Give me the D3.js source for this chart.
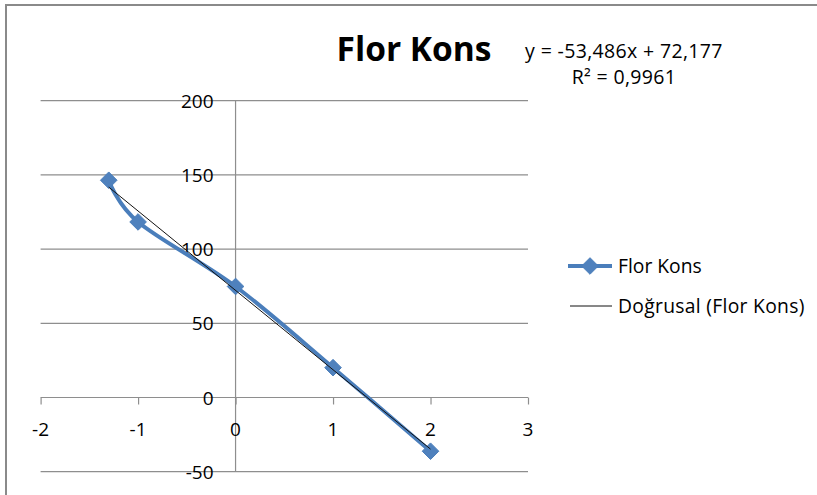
<!DOCTYPE html>
<html>
<head>
<meta charset="utf-8">
<script src="https://cdn.jsdelivr.net/npm/d3@7"></script>
<style>
  html, body { margin: 0; padding: 0; background: #fff; }
  svg { display: block; }
  text { font-family: "Open Sans", "Noto Sans", sans-serif; fill: #000; }
</style>
</head>
<body>
<svg id="chart" width="817" height="495"></svg>
<script>
// Fluoride concentration series (log10 of concentration vs. reading)
const logConc   = [-1.301, -1, 0, 1, 2];
const florKons  = [146.4, 118.3, 74.8, 20.1, -36.2];
const seriesName = "Flor Kons";
const trendName  = "Doğrusal (Flor Kons)";

// Linear trendline as reported on the chart
const trendSlope     = -53.486;
const trendIntercept = 72.177;
const rSquared       = 0.9961;

const xTicks = [-2, -1, 0, 1, 2, 3];
const yTicks = [-50, 0, 50, 100, 150, 200];

const svg = d3.select("#chart");
const blue = "#4A7EBB";
const gridColor = "#8e8e8e";

const x = d3.scaleLinear().domain([-2, 3]).range([40.6, 528]);
const y = d3.scaleLinear().domain([-50, 200]).range([471.7, 100.7]);

// chart frame (top and left edges)
svg.append("line").attr("x1", 5).attr("x2", 817).attr("y1", 5).attr("y2", 5)
  .attr("stroke", "#8a8a8a").attr("stroke-width", 2);
svg.append("line").attr("x1", 6).attr("x2", 6).attr("y1", 4).attr("y2", 495)
  .attr("stroke", "#8a8a8a").attr("stroke-width", 2);

// horizontal gridlines
svg.append("g").selectAll("line").data(yTicks).join("line")
  .attr("x1", x(-2)).attr("x2", x(3))
  .attr("y1", d => y(d)).attr("y2", d => y(d))
  .attr("stroke", gridColor).attr("stroke-width", 1.2);

// vertical axis at x = 0
svg.append("line").attr("x1", x(0)).attr("x2", x(0))
  .attr("y1", y(200)).attr("y2", y(-50))
  .attr("stroke", gridColor).attr("stroke-width", 1.2);

// horizontal axis at y = 0 with tick marks
const xAxis = d3.axisBottom(x).tickValues(xTicks).tickSize(7).tickFormat("");
const xg = svg.append("g").attr("transform", `translate(0,${y(0)})`).call(xAxis);
xg.select(".domain").remove();
xg.selectAll(".tick line").attr("stroke", gridColor).attr("stroke-width", 1.2);

// x tick labels
svg.append("g").selectAll("text").data(xTicks).join("text")
  .attr("x", d => x(d)).attr("y", y(0) + 38)
  .attr("text-anchor", "middle").attr("font-size", 19)
  .text(d => d);

// y tick labels
svg.append("g").selectAll("text").data(yTicks).join("text")
  .attr("x", x(0) - 22).attr("y", d => y(d) + 7)
  .attr("text-anchor", "end").attr("font-size", 19)
  .text(d => d);

const pts = logConc.map((v, i) => [x(v), y(florKons[i])]);

// smoothed series line
svg.append("path")
  .attr("d", d3.line().curve(d3.curveCardinal.tension(0))(pts))
  .attr("fill", "none").attr("stroke", blue).attr("stroke-width", 4)
  .attr("stroke-linejoin", "round").attr("stroke-linecap", "round");

// diamond markers
const diamond = (cx, cy, r) => `M${cx},${cy - r}L${cx + r},${cy}L${cx},${cy + r}L${cx - r},${cy}Z`;
svg.append("g").selectAll("path").data(pts).join("path")
  .attr("d", d => diamond(d[0], d[1], 8.3))
  .attr("fill", "#4F81BD").attr("stroke", blue).attr("stroke-width", 1);

// linear trendline across the data range
const tx0 = d3.min(logConc), tx1 = d3.max(logConc);
svg.append("line")
  .attr("x1", x(tx0)).attr("y1", y(trendSlope * tx0 + trendIntercept))
  .attr("x2", x(tx1)).attr("y2", y(trendSlope * tx1 + trendIntercept))
  .attr("stroke", "#111").attr("stroke-width", 1);

// title
svg.append("text").attr("x", 414).attr("y", 61)
  .attr("text-anchor", "middle").attr("font-size", 33.5).attr("font-weight", 700)
  .text(seriesName);

// trendline equation
const fmt = (v, d) => v.toFixed(d).replace(".", ",");
const eq = `y = ${fmt(trendSlope, 3)}x + ${fmt(trendIntercept, 3)}`;
svg.append("text").attr("x", 624).attr("y", 58)
  .attr("text-anchor", "middle").attr("font-size", 19.5).attr("letter-spacing", 0.35)
  .text(eq);
svg.append("text").attr("x", 624).attr("y", 84)
  .attr("text-anchor", "middle").attr("font-size", 19.5).attr("letter-spacing", 0.35)
  .text(`R² = ${fmt(rSquared, 4)}`);

// legend
const lg = svg.append("g");
lg.append("line").attr("x1", 568).attr("x2", 612).attr("y1", 266).attr("y2", 266)
  .attr("stroke", blue).attr("stroke-width", 4);
lg.append("path").attr("d", diamond(590, 266, 8.3))
  .attr("fill", "#4F81BD").attr("stroke", blue).attr("stroke-width", 1);
lg.append("text").attr("x", 618).attr("y", 273).attr("font-size", 19.3).text(seriesName);
lg.append("line").attr("x1", 570).attr("x2", 612).attr("y1", 306).attr("y2", 306)
  .attr("stroke", "#111").attr("stroke-width", 1);
lg.append("text").attr("x", 618).attr("y", 313).attr("font-size", 19.3)
  .attr("letter-spacing", 0.3).text(trendName);
</script>
</body>
</html>
